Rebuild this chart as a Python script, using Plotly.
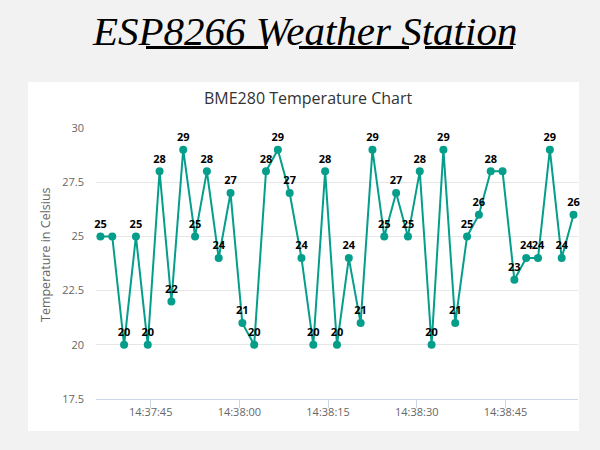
import plotly.graph_objects as go

# ---------------- data ----------------
times = [
    "2020-06-01 14:37:36.5", "2020-06-01 14:37:38.5", "2020-06-01 14:37:40.5",
    "2020-06-01 14:37:42.5", "2020-06-01 14:37:44.5", "2020-06-01 14:37:46.5",
    "2020-06-01 14:37:48.5", "2020-06-01 14:37:50.5", "2020-06-01 14:37:52.5",
    "2020-06-01 14:37:54.5", "2020-06-01 14:37:56.5", "2020-06-01 14:37:58.5",
    "2020-06-01 14:38:00.5", "2020-06-01 14:38:02.5", "2020-06-01 14:38:04.5",
    "2020-06-01 14:38:06.5", "2020-06-01 14:38:08.5", "2020-06-01 14:38:10.5",
    "2020-06-01 14:38:12.5", "2020-06-01 14:38:14.5", "2020-06-01 14:38:16.5",
    "2020-06-01 14:38:18.5", "2020-06-01 14:38:20.5", "2020-06-01 14:38:22.5",
    "2020-06-01 14:38:24.5", "2020-06-01 14:38:26.5", "2020-06-01 14:38:28.5",
    "2020-06-01 14:38:30.5", "2020-06-01 14:38:32.5", "2020-06-01 14:38:34.5",
    "2020-06-01 14:38:36.5", "2020-06-01 14:38:38.5", "2020-06-01 14:38:40.5",
    "2020-06-01 14:38:42.5", "2020-06-01 14:38:44.5", "2020-06-01 14:38:46.5",
    "2020-06-01 14:38:48.5", "2020-06-01 14:38:50.5", "2020-06-01 14:38:52.5",
    "2020-06-01 14:38:54.5", "2020-06-01 14:38:56.5",
]
temperatures = [25, 25, 20, 25, 20, 28, 22, 29, 25, 28, 24, 27, 21, 20, 28, 29, 27,
                24, 20, 28, 20, 24, 21, 29, 25, 27, 25, 28, 20, 29, 21, 25, 26, 28,
                28, 23, 24, 24, 29, 24, 26]
# data labels hidden in the original because they overlap a neighbour
hidden_labels = [1, 34]
y_ticks = [17.5, 20, 22.5, 25, 27.5, 30]
y_tick_labels = ["17.5", "20", "22.5", "25", "27.5", "30"]
x_range = ["2020-06-01 14:37:35.75", "2020-06-01 14:38:57.26"]
x_tick0 = "2020-06-01 14:37:45"

page_title = "ESP8266 Weather Station"
chart_title = "BME280 Temperature Chart"
y_title = "Temperature in Celsius"

labels = ["" if i in hidden_labels else str(v) for i, v in enumerate(temperatures)]

# ---------------- layout geometry (pixels) ----------------
W, H = 600, 450
L, R, T, B = 96, 22, 128, 51
PW, PH = W - L - R, H - T - B


def px(x):
    return (x - L) / PW


def py(y):
    return (H - B - y) / PH


COLOR = "#059e8a"

fig = go.Figure()
fig.add_trace(go.Scatter(
    x=times, y=temperatures,
    mode="lines+markers+text",
    text=labels,
    textposition="top center",
    textfont=dict(family="Open Sans", size=11, color="#000000", weight="bold"),
    line=dict(color=COLOR, width=2),
    marker=dict(color=COLOR, size=8),
    cliponaxis=False,
    hoverinfo="skip",
    showlegend=False,
))

shapes = [
    # white chart card
    dict(type="rect", xref="paper", yref="paper",
         x0=px(28), x1=px(579), y0=py(431), y1=py(82),
         fillcolor="#ffffff", line=dict(width=0), layer="below"),
]
# underline bars of the page title
for x0, x1 in [(146, 268), (299, 409), (425, 513)]:
    shapes.append(dict(type="rect", xref="paper", yref="paper",
                       x0=px(x0), x1=px(x1), y0=py(49), y1=py(46),
                       fillcolor="#000000", line=dict(width=0)))

annotations = [
    dict(text=page_title, xref="paper", yref="paper", x=px(304), y=py(31),
         xanchor="center", yanchor="middle", showarrow=False,
         font=dict(family="Liberation Serif", size=41, color="#000000", style="italic")),
    dict(text=chart_title, xref="paper", yref="paper", x=px(308), y=py(98),
         xanchor="center", yanchor="middle", showarrow=False,
         font=dict(family="Open Sans", size=16, color="#333333")),
    dict(text=y_title, xref="paper", yref="paper", x=px(45), y=py(255),
         xanchor="center", yanchor="middle", showarrow=False, textangle=-90,
         font=dict(family="Open Sans", size=12.5, color="#666666")),
]

fig.update_layout(
    width=W, height=H,
    margin=dict(l=L, r=R, t=T, b=B),
    paper_bgcolor="#f2f2f2",
    plot_bgcolor="rgba(0,0,0,0)",
    shapes=shapes,
    annotations=annotations,
    hovermode=False,
    xaxis=dict(
        type="date", range=x_range,
        tick0=x_tick0, dtick=15000, tickformat="%H:%M:%S",
        showgrid=False, zeroline=False,
        showline=True, linecolor="#ccd6eb", linewidth=1,
        ticks="outside", ticklen=8, tickcolor="#ccd6eb",
        ticklabelstandoff=-5,
        tickfont=dict(family="Open Sans", size=11, color="#666666"),
    ),
    yaxis=dict(
        range=[17.5, 30], tickvals=y_ticks, ticktext=y_tick_labels,
        showgrid=True, gridcolor="#e6e6e6", gridwidth=1,
        zeroline=False, showline=False, ticks="",
        ticklabelstandoff=11,
        tickfont=dict(family="Open Sans", size=11, color="#666666"),
    ),
)

fig.write_html("out.html", config={"displayModeBar": False},
               post_script="document.body.style.margin='0';")
